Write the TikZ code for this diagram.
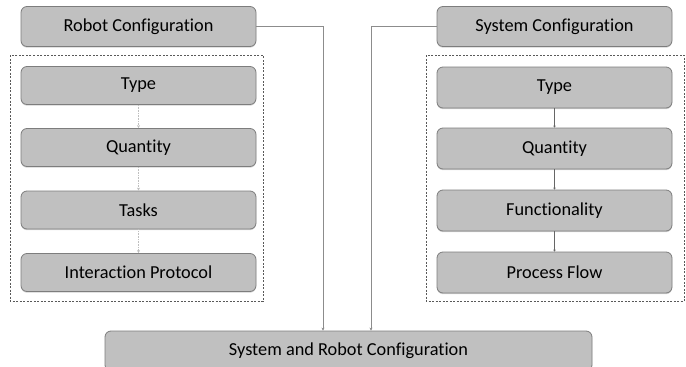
\documentclass[tikz,border=0pt]{standalone}
\usepackage{fontspec}
\setmainfont{Carlito}[Ligatures=NoCommon]
\usetikzlibrary{arrows.meta,shadows}
\definecolor{boxfill}{RGB}{192,192,192}
\definecolor{boxline}{RGB}{125,125,125}
\begin{document}
\begin{tikzpicture}[x=1pt,y=-1pt,line cap=butt,line join=miter,>={Stealth[length=3pt,width=3pt]},font=\fontsize{18.3}{22}\selectfont]
			\tikzset{cfgbox/.style={draw=boxline,line width=0.8pt,fill=boxfill,rounded corners=6pt,
					minimum width=235pt,minimum height=40pt,inner sep=0pt,
					drop shadow={shadow xshift=0pt,shadow yshift=-1.2pt,opacity=0.35}},
				frame/.style={draw=black!65,dashed,dash pattern=on 2pt off 1.5pt,line width=0.6pt},
				faint/.style={draw=black!25,densely dotted,line width=0.6pt,->},
				solidlink/.style={draw=black!60,line width=1.2pt,-{Stealth[length=2pt,width=2.5pt]}},
				mainlink/.style={draw=black!45,line width=0.7pt,->}
			}
			\useasboundingbox (0,0) rectangle (686,367);
			\draw[frame] (10,55) rectangle (263,301);
			\draw[frame] (426,55) rectangle (684,301);
			\node[cfgbox] (robot) at (138.5,26.5) {Robot Configuration};
			\node[cfgbox,minimum height=38pt] (rtype) at (138.5,85.5) {Type};
			\node[cfgbox,minimum height=38pt] (rquant) at (138.5,147.5) {Quantity};
			\node[cfgbox,minimum height=38pt] (rtask) at (138.5,210) {Tasks};
			\node[cfgbox,minimum height=38pt] (rproto) at (138.5,272.5) {Interaction Protocol};
			\node[cfgbox] (system) at (554.5,26.5) {System Configuration};
			\node[cfgbox,minimum height=41pt] (stype) at (554.5,87.5) {Type};
			\node[cfgbox,minimum height=41pt] (squant) at (554.5,148.5) {Quantity};
			\node[cfgbox,minimum height=41pt] (sfunc) at (554.5,210.5) {Functionality};
			\node[cfgbox,minimum height=41pt] (sflow) at (554.5,272.5) {Process Flow};
			\node[cfgbox,minimum width=487pt] (both) at (348.5,351) {System and Robot Configuration};
			\draw[faint] (rtype) -- (rquant);
			\draw[faint] (rquant) -- (rtask);
			\draw[faint] (rtask) -- (rproto);
			\draw[solidlink] (stype) -- (squant);
			\draw[solidlink] (squant) -- (sfunc);
			\draw[solidlink] (sfunc) -- (sflow);
			\draw[mainlink] (robot.east) -| ([xshift=-25.5pt]both.north);
			\draw[mainlink] (system.west) -| ([xshift=22.5pt]both.north);
		\end{tikzpicture}
\end{document}
